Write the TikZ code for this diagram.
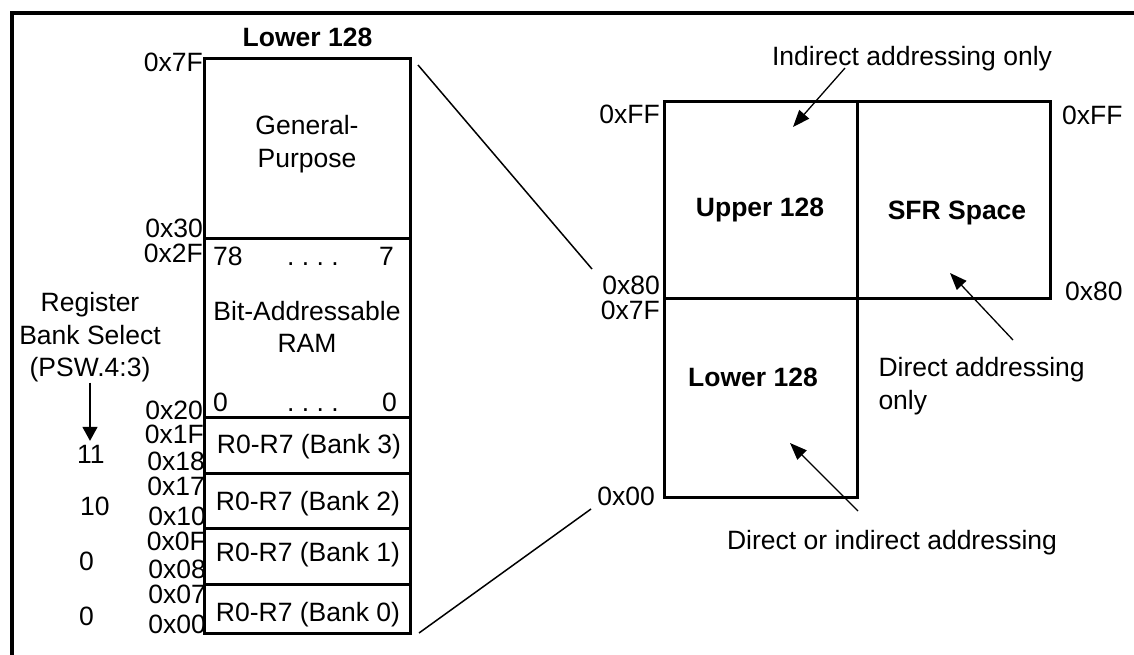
\documentclass[tikz,border=0pt]{standalone}
\usepackage{fontspec}
\setmainfont{Liberation Sans}
\usetikzlibrary{arrows.meta,calc}

\tikzstyle{mem}=[draw=black,line width=3pt]
\tikzstyle{frame}=[draw=black,line width=4pt]
\tikzstyle{zoomline}=[draw=black,line width=1.5pt]
\tikzstyle{pointer}=[draw=black,line width=1.3pt,-{Triangle[length=17pt,width=13pt]}]
\tikzstyle{addr}=[anchor=base east]
\tikzstyle{lbl}=[anchor=base]

\begin{document}
\begin{tikzpicture}[x=1pt,y=-1pt,every node/.style={inner sep=0pt},font=\fontsize{26.5}{32.5}\selectfont]

   \useasboundingbox (0,0) rectangle (1134,654);
   \draw[frame] (12,660) -- (12,12.5) -- (1140,12.5);


   \draw[mem] (204,58) coordinate(gptl) -- (410,58) coordinate(gptr)
-- (410,633) coordinate(b0br) -- (204,633) coordinate(b0bl) -- cycle;
   \foreach \y in {238,417,473,528,584}
      \draw[mem] (204,\y) -- (410,\y);

   \node[lbl] (lowtitle) at (307.5,46.7) {\bfseries Lower 128};
   \node[align=center] (gp) at (307,144) {General-\\Purpose};
   \node[align=center] (bitram) at (307,327) {Bit-Addressable\\RAM};
   \node[anchor=base west] (bit78) at (213,265) {78};
   \node[lbl] (bitdots) at (313,265) {.\ .\ .\ .};
   \node[anchor=base east] (bit7) at (394,265) {7};
   \node[anchor=base west] (bit0l) at (213,411.7) {0};
   \node[lbl] (bit0dots) at (313,411.7) {.\ .\ .\ .};
   \node[anchor=base east] (bit0r) at (397,411.7) {0};
   \node[lbl] (bank3) at (309,453.3) {R0-R7 (Bank 3)};
   \node[lbl] (bank2) at (308,510) {R0-R7 (Bank 2)};
   \node[lbl] (bank1) at (308,561.7) {R0-R7 (Bank 1)};
   \node[lbl] (bank0) at (308,621.7) {R0-R7 (Bank 0)};

   \node[addr] (a7f) at (203,71.7) {0x7F};
   \node[addr] (a30) at (203,237) {0x30};
   \node[addr] (a2f) at (203,262.5) {0x2F};
   \node[addr] (a20) at (203,419) {0x20};
   \node[addr] (a1f) at (204,443.5) {0x1F};
   \node[addr] (a18) at (205,470.5) {0x18};
   \node[addr] (a17) at (205,495) {0x17};
   \node[addr] (a10) at (206,525.5) {0x10};
   \node[addr] (a0f) at (206,550) {0x0F};
   \node[addr] (a08) at (206,578.5) {0x08};
   \node[addr] (a07) at (206,603) {0x07};
   \node[addr] (a00) at (206,633) {0x00};

   \node[align=center] (rbs) at (90,337.5) {Register\\Bank Select\\(PSW.4:3)};
   \node[anchor=base west] (sel11) at (77,463.3) {11};
   \node[anchor=base west] (sel10) at (80,515) {10};
   \node[anchor=base west] (sel01) at (79,570) {0};
   \node[anchor=base west] (sel00) at (79,625) {0};
   \draw[pointer,-{Triangle[length=14pt,width=15pt]},shorten >=4pt] (rbs.south) -- (rbs.south |- sel11.north);


   \draw[mem] (664,101) coordinate(uptl) -- (1050,101) coordinate(sfrtr)
-- (1050,298) coordinate(sfrbr) -- (664,298) coordinate(lotl) -- cycle;
   \draw[mem] (857,101) coordinate(divt) -- (857,497) coordinate(lobr)
-- (664,497) coordinate(lobl) -- (lotl);

   \node[lbl] (upper) at (760,216.7) {\bfseries Upper 128};
   \node[lbl] (sfr) at (957,219) {\bfseries SFR Space};
   \node[lbl] (lower) at (753,386) {\bfseries Lower 128};

   \node[addr] (uff) at (660,123.3) {0xFF};
   \node[addr] (u80) at (660,294) {0x80};
   \node[addr] (l7f) at (660,319) {0x7F};
   \node[addr] (l00) at (655,505.7) {0x00};
   \node[anchor=base west] (sff) at (1062,124) {0xFF};
   \node[anchor=base west] (s80) at (1065,300) {0x80};

   \node[lbl] (indnote) at (912,65) {Indirect addressing only};
   \node[anchor=north west,align=left] (dirnote) at (878.3,357.4) {Direct addressing\\only};
   \node[lbl] (dinote) at (892,549.3) {Direct or indirect addressing};

   \coordinate (upptip) at (793,127);
   \coordinate (sfrtip) at (950,273);
   \coordinate (lowtip) at (790,443);
   \draw[pointer] ($(indnote.base)+(-67,3)$) -- (upptip);
   \draw[pointer] ($(dirnote.north west)+(134.7,-17.4)$) -- (sfrtip);
   \draw[pointer] ($(dinote.base)+(-34,-38.3)$) -- (lowtip);


   \draw[zoomline] ($(gptr)+(8,7)$) -- ($(lotl)+(-72,-29)$);
   \draw[zoomline] ($(b0br)+(9,0)$) -- ($(lobl)+(-73,12)$);

\end{tikzpicture}
\end{document}
